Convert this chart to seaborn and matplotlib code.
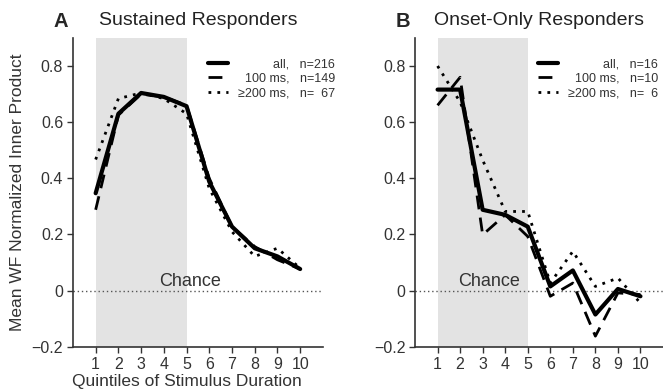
import numpy as np
import pandas as pd
import matplotlib
matplotlib.use("Agg")
import matplotlib.pyplot as plt
import seaborn as sns

sns.set_theme(style="ticks")
plt.rcParams['font.family'] = ['Liberation Sans', 'DejaVu Sans']

quintiles = [1, 2, 3, 4, 5, 6, 7, 8, 9, 10]

# Panel A: Sustained Responders
a_all = [0.347, 0.63, 0.704, 0.69, 0.657, 0.388, 0.228, 0.151, 0.122, 0.077]
a_100 = [0.288, 0.625, 0.70, 0.69, 0.66, 0.40, 0.228, 0.157, 0.11, 0.077]
a_200 = [0.467, 0.684, 0.704, 0.684, 0.63, 0.364, 0.21, 0.122, 0.151, 0.08]

# Panel B: Onset-Only Responders
b_all = [0.716, 0.716, 0.288, 0.27, 0.228, 0.015, 0.072, -0.085, 0.006, -0.02]
b_100 = [0.66, 0.76, 0.199, 0.27, 0.193, -0.02, 0.027, -0.162, -0.008, -0.014]
b_200 = [0.80, 0.672, 0.465, 0.282, 0.282, 0.027, 0.14, 0.015, 0.045, -0.044]

SP = " " * 10
labels_a = [SP + "all,   n=216", "  100 ms,   n=149", "\u2265200 ms,   n=\u200767"]
labels_b = [SP + "all,   n=16", "  100 ms,   n=10", "\u2265200 ms,   n=\u20076"]
yticks = [-0.2, 0, 0.2, 0.4, 0.6, 0.8]
ytick_labels = ["\u22120.2", "0", "0.2", "0.4", "0.6", "0.8"]

fig = plt.figure(figsize=(6.63, 3.91), dpi=100)
axA = fig.add_axes([0.110, 0.113, 0.377, 0.790])
axB = fig.add_axes([0.626, 0.113, 0.374, 0.790])

styles = [dict(lw=3.0, ls='-'), dict(lw=2.0, ls=(0, (5, 3))), dict(lw=2.0, ls=(0, (1, 2.2)))]

def draw(ax, series, labels, title, letter, chance_x, leg_x):
    ax.axvspan(1, 5, color='#e3e3e3', lw=0, zorder=0)
    ax.axhline(0, color='#555555', lw=1.0, ls=(0, (1, 2)), zorder=1)
    ax.text(chance_x, 0.015, "Chance", ha='center', va='baseline', fontsize=13, color='#333333')
    for ys, lab, st in zip(series, labels, styles):
        sns.lineplot(x=quintiles, y=ys, ax=ax, color='black', label=lab,
                     linewidth=st['lw'], linestyle=st['ls'], zorder=3)
    ax.set_xlim(0, 11)
    ax.set_ylim(-0.2, 0.9)
    ax.set_xticks(quintiles)
    ax.set_xticklabels([str(q) for q in quintiles], fontsize=11.5, color='#333333')
    ax.set_yticks(yticks)
    ax.set_yticklabels(ytick_labels, fontsize=11.5, color='#333333')
    ax.tick_params(direction='out', length=4, width=1, color='#333333', pad=3)
    for s in ['top', 'right']:
        ax.spines[s].set_visible(False)
    for s in ['left', 'bottom']:
        ax.spines[s].set_color('#333333')
        ax.spines[s].set_linewidth(1.2)
    leg = ax.legend(loc='upper left', frameon=False, fontsize=9, handlelength=1.6,
                    handletextpad=0.8, labelspacing=0.2, borderaxespad=0, borderpad=0,
                    bbox_to_anchor=(leg_x, 0.935))
    for t in leg.get_texts():
        t.set_color('#333333')
    ax.set_title(title, fontsize=14, color='#222222', pad=9)
    ax.text(-0.078, 1.035, letter, transform=ax.transAxes, fontsize=14.5,
            fontweight='bold', ha='left', va='baseline')
    ax.set_xlabel("")
    ax.set_ylabel("")

draw(axA, [a_all, a_100, a_200], labels_a, "Sustained Responders", "A", 5.15, 0.54)
draw(axB, [b_all, b_100, b_200], labels_b, "Onset-Only Responders", "B", 3.27, 0.496)

axA.set_xlabel("Quintiles of Stimulus Duration", fontsize=12.5, color='#333333')
axA.xaxis.set_label_coords(0.456, -0.088)
axA.set_ylabel("Mean WF Normalized Inner Product", fontsize=12.5, color='#333333', labelpad=5)

fig.savefig("out.png", dpi=100)
